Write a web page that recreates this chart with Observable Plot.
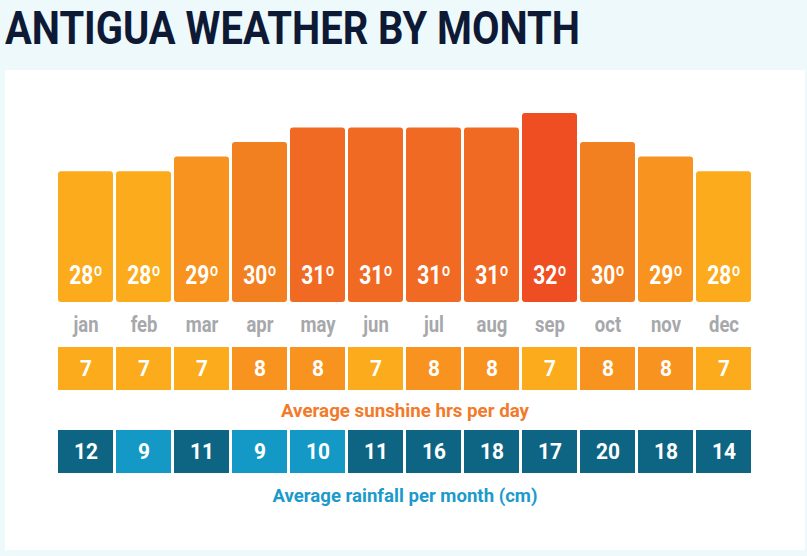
<!DOCTYPE html>
<html>
<head>
<meta charset="utf-8">
<script src="https://cdn.jsdelivr.net/npm/d3@7"></script>
<script src="https://cdn.jsdelivr.net/npm/@observablehq/plot@0.6"></script>
<style>
  html, body { margin: 0; padding: 0; background: #eef9fc; width: 807px; height: 556px; overflow: hidden; font-family: Roboto, "Liberation Sans", sans-serif; }
  #page { position: relative; width: 807px; height: 556px; }
  .title { position: absolute; left: 5px; top: 4px; font-weight: 700; font-size: 46px; line-height: 48px; color: #0e1a35; white-space: nowrap; transform-origin: 0 0; }
  .panel { position: absolute; left: 5px; top: 70px; width: 800px; height: 480px; background: #fff; }
  .chart { position: absolute; left: 0; }
  .caption { position: absolute; left: 0; width: 810px; text-align: center; font-weight: 700; font-size: 18px; line-height: 20px; white-space: nowrap; transform-origin: 405px 50%; }
</style>
</head>
<body>
<div id="page">
  <div class="title" id="title">ANTIGUA WEATHER BY MONTH</div>
  <div class="panel"></div>
</div>
<script>
// Monthly climate figures for Antigua
const months = ["jan", "feb", "mar", "apr", "may", "jun", "jul", "aug", "sep", "oct", "nov", "dec"];
const temperature = [28, 28, 29, 30, 31, 31, 31, 31, 32, 30, 29, 28];   // °C
const sunshine = [7, 7, 7, 8, 8, 7, 8, 8, 7, 8, 8, 7];                  // hrs per day
const rainfall = [12, 9, 11, 9, 10, 11, 16, 18, 17, 20, 18, 14];        // cm per month
const sunshineCaption = "Average sunshine hrs per day";
const rainfallCaption = "Average rainfall per month (cm)";

const tempColors = ["#fbab1c", "#f7931e", "#f28021", "#f16a24", "#ef4e23"];
const sunColors = ["#fbab1c", "#f7931e"];
const rainColors = ["#1498c5", "#0e6583"];
const tempBase = 19; // foot of the temperature scale

const tempData = months.map((month, i) => ({month, temp: temperature[i]}));
const sunData = months.map((month, i) => ({month, hours: sunshine[i]}));
const rainData = months.map((month, i) => ({month, cm: rainfall[i]}));

const page = document.getElementById("page");
const W = 807, ML = 57, MR = 54;
const band = {domain: months, paddingInner: 0.05, paddingOuter: 0};

// Narrow the glyphs of every text in an svg horizontally, keeping anchors in place
function condense(svg, sx) {
  svg.querySelectorAll("text").forEach(t => {
    if (t.hasAttribute("x")) t.setAttribute("x", (+t.getAttribute("x") || 0) / sx);
    t.setAttribute("transform", (t.getAttribute("transform") || "") + ` scale(${sx},1)`);
  });
}

function place(el, top) {
  el.classList.add("chart");
  el.style.top = top + "px";
  page.appendChild(el);
}

// Temperature bars with month labels underneath
const tempChart = Plot.plot({
  width: W, height: 240,
  marginLeft: ML, marginRight: MR, marginTop: 13, marginBottom: 38,
  x: {...band, tickSize: 0, tickPadding: 14, label: null},
  y: {domain: [tempBase, 32], axis: null},
  color: {type: "ordinal", domain: [28, 29, 30, 31, 32], range: tempColors},
  style: {fontFamily: "Roboto, sans-serif", fontSize: "22px", fontWeight: 700, color: "#a6a8ab", background: "transparent", overflow: "visible"},
  marks: [
    Plot.barY(tempData, {x: "month", y1: tempBase, y2: "temp", fill: "temp", rx: 3}),
    Plot.text(tempData, {x: "month", text: d => d.temp + "º", frameAnchor: "bottom", dy: -19, fill: "white", fontSize: 25, fontWeight: 700})
  ]
});
condense(tempChart, 0.84);
place(tempChart, 100);

// Sunshine row
const sunChart = Plot.plot({
  width: W, height: 43,
  marginLeft: ML, marginRight: MR, marginTop: 0, marginBottom: 0,
  x: {...band, axis: null},
  color: {type: "ordinal", domain: [7, 8], range: sunColors},
  style: {fontFamily: "Roboto, sans-serif", background: "transparent", overflow: "visible"},
  marks: [
    Plot.cell(sunData, {x: "month", fill: "hours", inset: 0}),
    Plot.text(sunData, {x: "month", text: "hours", fill: "white", fontSize: 22, fontWeight: 700})
  ]
});
condense(sunChart, 0.95);
place(sunChart, 347);

// Rainfall row
const rainChart = Plot.plot({
  width: W, height: 43,
  marginLeft: ML, marginRight: MR, marginTop: 0, marginBottom: 0,
  x: {...band, axis: null},
  color: {type: "threshold", domain: [11], range: rainColors},
  style: {fontFamily: "Roboto, sans-serif", background: "transparent", overflow: "visible"},
  marks: [
    Plot.cell(rainData, {x: "month", fill: "cm", inset: 0}),
    Plot.text(rainData, {x: "month", text: "cm", fill: "white", fontSize: 22, fontWeight: 700})
  ]
});
condense(rainChart, 0.95);
place(rainChart, 430);

// Captions under each row, narrowed to the row's typographic width
function caption(text, top, color, targetWidth) {
  const d = document.createElement("div");
  d.className = "caption";
  d.style.top = top + "px";
  d.style.color = color;
  const s = document.createElement("span");
  s.textContent = text;
  d.appendChild(s);
  page.appendChild(d);
  const w = s.getBoundingClientRect().width;
  d.style.transform = `scaleX(${targetWidth / w})`;
}
caption(sunshineCaption, 401, "#f37a2a", 248);
caption(rainfallCaption, 486, "#1b9acb", 265);

// Title, fitted to its width
const title = document.getElementById("title");
const tw = title.getBoundingClientRect().width;
title.style.transform = `scaleX(${575 / tw})`;
</script>
</body>
</html>
